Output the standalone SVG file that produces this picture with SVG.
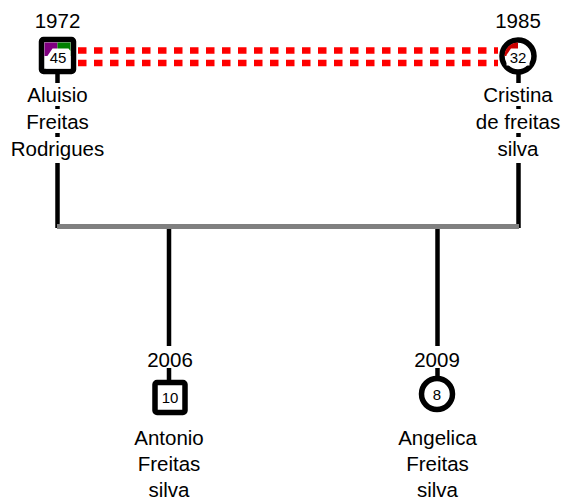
<svg xmlns="http://www.w3.org/2000/svg" width="565" height="500" viewBox="0 0 565 500">
<style>
.t{font-family:"Liberation Sans",Arial,sans-serif;font-size:20.5px;text-anchor:middle;fill:#000}
.n{font-family:"Liberation Sans",Arial,sans-serif;font-size:15px;text-anchor:middle;fill:#000}
.bg{fill:#fff}
.ln{stroke:#000;stroke-width:4.5;fill:none}
.shape{fill:#fff;stroke:#000;stroke-width:5.5}
.dash{stroke:#ff0000;stroke-width:6.5;stroke-dasharray:8.5 7.5;fill:none}
</style>
<rect width="565" height="500" fill="#fff"/>
<g id="connectors">
  <line class="dash" x1="78" y1="50.5" x2="498" y2="50.5"/>
  <line class="dash" x1="78" y1="63" x2="498" y2="63"/>
  <line class="ln" x1="57.5" y1="72" x2="57.5" y2="228"/>
  <line class="ln" x1="518.5" y1="72" x2="518.5" y2="228"/>
  <line x1="57" y1="226.5" x2="519" y2="226.5" stroke="#808080" stroke-width="5"/>
  <line class="ln" x1="169" y1="229" x2="169" y2="382"/>
  <line class="ln" x1="437.5" y1="229" x2="437.5" y2="380"/>
</g>
<g id="aluisio">
  <text class="t" x="57.5" y="28">1972</text>
  <rect class="shape" x="41.5" y="39.5" width="32" height="32" rx="2"/>
  <rect x="44.5" y="42.5" width="13" height="13.5" fill="#800080"/>
  <rect x="57.5" y="42.5" width="13" height="13.5" fill="#008000"/>
  <polygon points="52.5,48.5 68.5,48.5 70.5,51 70.5,68.5 46,68.5 46,58" fill="#fff"/>
  <text class="n" x="58" y="63">45</text>
  <rect class="bg" x="20" y="83" width="76" height="23"/>
  <text class="t" x="57.5" y="102">Aluisio</text>
  <rect class="bg" x="20" y="109" width="76" height="24"/>
  <text class="t" x="57.5" y="129">Freitas</text>
  <rect class="bg" x="5" y="137" width="106" height="26"/>
  <text class="t" x="57.5" y="156">Rodrigues</text>
</g>
<g id="cristina">
  <text class="t" x="518" y="28">1985</text>
  <circle class="shape" cx="518" cy="56" r="16"/>
  <path d="M518,56 L504.5,56 A13.5,13.5 0 0 1 518,42.5 Z" fill="#cc0000"/>
  <polygon points="511,48.5 526,48.5 529.5,51.5 529.5,65.5 506.5,65.5 506.5,55" fill="#fff"/>
  <text class="n" x="518" y="63">32</text>
  <rect class="bg" x="478" y="83" width="80" height="23"/>
  <text class="t" x="518" y="102">Cristina</text>
  <rect class="bg" x="470" y="109" width="95" height="24"/>
  <text class="t" x="518" y="129">de freitas</text>
  <rect class="bg" x="490" y="137" width="56" height="26"/>
  <text class="t" x="518" y="156">silva</text>
</g>
<g id="antonio">
  <rect class="bg" x="140" y="346" width="58" height="22"/>
  <text class="t" x="170" y="367">2006</text>
  <rect class="shape" x="155" y="382.5" width="30" height="30" rx="2"/>
  <text class="n" x="170" y="403">10</text>
  <text class="t" x="169" y="445">Antonio</text>
  <text class="t" x="169" y="471">Freitas</text>
  <text class="t" x="169" y="497">silva</text>
</g>
<g id="angelica">
  <rect class="bg" x="409" y="346" width="58" height="22"/>
  <text class="t" x="437" y="367">2009</text>
  <circle class="shape" cx="437" cy="394" r="15.5"/>
  <text class="n" x="437" y="399.5">8</text>
  <text class="t" x="437.5" y="445">Angelica</text>
  <text class="t" x="437.5" y="471">Freitas</text>
  <text class="t" x="437.5" y="497">silva</text>
</g>
</svg>
